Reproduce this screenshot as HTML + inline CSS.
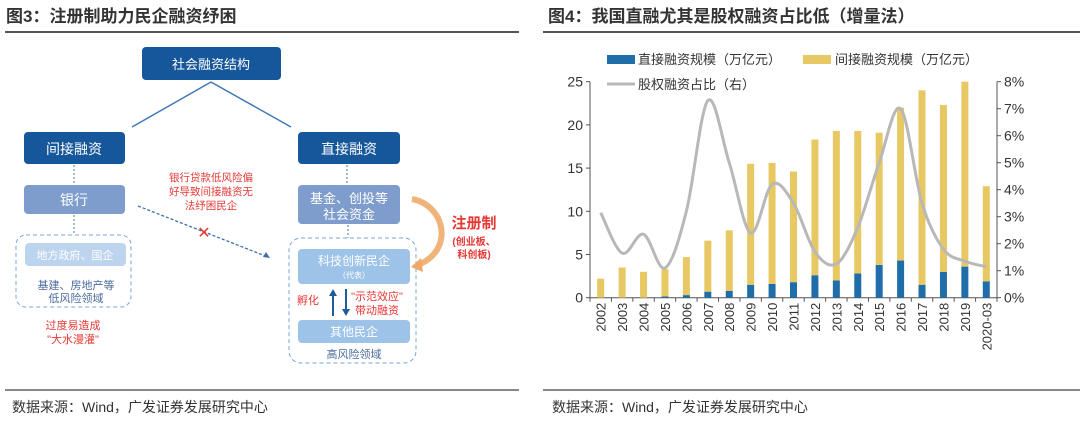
<!DOCTYPE html>
<html><head><meta charset="utf-8"><style>
body{margin:0;width:1080px;height:425px;background:#fff;overflow:hidden;font-family:"Liberation Sans","Noto Sans CJK SC",sans-serif;}
svg text{font-family:"Liberation Sans","Noto Sans CJK SC",sans-serif;}
</style></head><body>
<svg width="1080" height="425" viewBox="0 0 1080 425">
<!-- headers -->
<text x="6" y="22" font-size="17" font-weight="bold" fill="#333">图3：注册制助力民企融资纾困</text>
<text x="548" y="22" font-size="17" font-weight="bold" fill="#333">图4：我国直融尤其是股权融资占比低（增量法）</text>
<line x1="5" y1="32" x2="519" y2="32" stroke="#555" stroke-width="2"/>
<line x1="543" y1="32" x2="1080" y2="32" stroke="#555" stroke-width="2"/>
<line x1="5" y1="390" x2="519" y2="390" stroke="#888" stroke-width="2"/>
<line x1="543" y1="390" x2="1080" y2="390" stroke="#888" stroke-width="2"/>
<text x="12" y="412" font-size="14" fill="#333">数据来源：Wind，广发证券发展研究中心</text>
<text x="552" y="412" font-size="14" fill="#333">数据来源：Wind，广发证券发展研究中心</text>

<!-- left diagram -->
<g>
<line x1="211" y1="82" x2="132" y2="127" stroke="#3f78b5" stroke-width="1.5"/>
<line x1="211" y1="82" x2="291" y2="127" stroke="#3f78b5" stroke-width="1.5"/>
<rect x="142" y="47" width="139" height="33" rx="4" fill="#15579a"/>
<text x="211" y="69" font-size="13" fill="#fff" text-anchor="middle">社会融资结构</text>
<rect x="24" y="132" width="101" height="32" rx="4" fill="#15579a"/>
<text x="74" y="154" font-size="14" fill="#fff" text-anchor="middle">间接融资</text>
<rect x="298" y="132" width="102" height="32" rx="4" fill="#15579a"/>
<text x="349" y="154" font-size="14" fill="#fff" text-anchor="middle">直接融资</text>
<line x1="74" y1="165" x2="74" y2="185" stroke="#3f78b5" stroke-dasharray="2,2"/>
<line x1="347" y1="165" x2="347" y2="185" stroke="#3f78b5" stroke-dasharray="2,2"/>
<rect x="24" y="185" width="101" height="29" rx="4" fill="#7e9ccc"/>
<text x="74" y="205" font-size="14" fill="#fff" text-anchor="middle">银行</text>
<rect x="298" y="185" width="102" height="39" rx="4" fill="#7e9ccc"/>
<text x="349" y="203" font-size="13" fill="#fff" text-anchor="middle">基金、创投等</text>
<text x="349" y="219" font-size="13" fill="#fff" text-anchor="middle">社会资金</text>
<line x1="74" y1="215" x2="74" y2="235" stroke="#3f78b5" stroke-dasharray="2,2"/>
<line x1="348" y1="225" x2="348" y2="238" stroke="#3f78b5" stroke-dasharray="2,2"/>
<rect x="16" y="235" width="115" height="72" rx="10" fill="none" stroke="#7aa6d6" stroke-dasharray="4,3"/>
<rect x="25" y="243" width="101" height="23" rx="4" fill="#bdd4ef"/>
<text x="75" y="259" font-size="11" fill="#fff" text-anchor="middle">地方政府、国企</text>
<text x="76" y="289" font-size="11" fill="#4a6a9a" text-anchor="middle">基建、房地产等</text>
<text x="76" y="302" font-size="11" fill="#4a6a9a" text-anchor="middle">低风险领域</text>
<text x="73" y="329" font-size="11" fill="#e53935" text-anchor="middle">过度易造成</text>
<text x="73" y="343" font-size="11" fill="#e53935" text-anchor="middle">"大水漫灌"</text>
<text x="211" y="181" font-size="10.5" fill="#e53935" text-anchor="middle">银行贷款低风险偏</text>
<text x="211" y="195" font-size="10.5" fill="#e53935" text-anchor="middle">好导致间接融资无</text>
<text x="211" y="209" font-size="10.5" fill="#e53935" text-anchor="middle">法纾困民企</text>
<line x1="138" y1="206" x2="268" y2="257" stroke="#3f6fa8" stroke-width="1.3" stroke-dasharray="3,2"/>
<polygon points="270,258 263,257 266,252" fill="#3f6fa8"/>
<text x="204" y="238" font-size="16" fill="#e53935" text-anchor="middle">✕</text>
<rect x="289" y="238" width="127" height="125" rx="12" fill="none" stroke="#7aa6d6" stroke-dasharray="4,3"/>
<rect x="298" y="249" width="112" height="35" rx="4" fill="#9dc3e8"/>
<text x="354" y="265" font-size="12" fill="#fff" text-anchor="middle">科技创新民企</text>
<text x="354" y="278" font-size="8" fill="#fff" text-anchor="middle">（代表）</text>
<rect x="298" y="320" width="112" height="23" rx="4" fill="#9dc3e8"/>
<text x="354" y="336" font-size="12" fill="#fff" text-anchor="middle">其他民企</text>
<text x="354" y="358" font-size="11" fill="#4a6a9a" text-anchor="middle">高风险领域</text>
<line x1="333" y1="316" x2="333" y2="294" stroke="#1f5c99" stroke-width="2"/>
<polygon points="333,289 329,296 337,296" fill="#1f5c99"/>
<line x1="346" y1="289" x2="346" y2="311" stroke="#1f5c99" stroke-width="2"/>
<polygon points="346,316 342,309 350,309" fill="#1f5c99"/>
<text x="308" y="304" font-size="11" fill="#e53935" text-anchor="middle">孵化</text>
<text x="377" y="300" font-size="11" fill="#e53935" text-anchor="middle">"示范效应"</text>
<text x="377" y="314" font-size="11" fill="#e53935" text-anchor="middle">带动融资</text>
<path d="M412,199 C445,205 455,250 418,265" fill="none" stroke="#f0b47a" stroke-width="6"/>
<polygon points="411,267 421,258 423,272" fill="#f0a868"/>
<text x="474" y="228" font-size="15" font-weight="bold" fill="#e53935" text-anchor="middle">注册制</text>
<text x="474" y="245" font-size="10" font-weight="bold" fill="#e53935" text-anchor="middle">(创业板、</text>
<text x="474" y="258" font-size="10" font-weight="bold" fill="#e53935" text-anchor="middle">科创板)</text>
</g>

<g id="chart"></g>
</svg>
<script>
const categories=["2002","2003","2004","2005","2006","2007","2008","2009","2010","2011","2012","2013","2014","2015","2016","2017","2018","2019","2020-03"];
const directValues=[0,0,0,0.15,0.3,0.7,0.8,1.5,1.6,1.8,2.6,2.0,2.8,3.8,4.3,1.5,3.0,3.6,1.9];
const indirectValues=[2.2,3.5,3.0,3.15,4.4,5.9,7.0,14.0,14.0,12.8,15.7,17.3,16.5,15.3,17.7,22.5,19.3,21.4,11.0];
const equityShare=[3.15,1.65,2.35,1.1,3.2,7.3,5.0,2.4,4.2,3.5,1.7,1.25,2.6,5.0,7.0,3.5,1.8,1.35,1.15];
const leftTicks=[0,5,10,15,20,25];
const rightTicks=[0,1,2,3,4,5,6,7,8];
const NS="http://www.w3.org/2000/svg";
const g=document.getElementById('chart');
const X0=590,X1=997,Y0=297.7,Y1=81.7;
const step=(X1-X0)/categories.length;
const xc=i=>X0+step*(i+0.5);
const yL=v=>Y0-(v/25)*(Y0-Y1);
const yR=v=>Y0-(v/8)*(Y0-Y1);
function el(t,a){const e=document.createElementNS(NS,t);for(const k in a)e.setAttribute(k,a[k]);g.appendChild(e);return e;}
// axes
let ax=el('line',{x1:X0,y1:Y1,x2:X0,y2:Y0,stroke:'#555'});


ax=el('line',{x1:X1,y1:Y1,x2:X1,y2:Y0,stroke:'#555'});


ax=el('line',{x1:X0,y1:Y0,x2:X1,y2:Y0,stroke:'#555'});


leftTicks.forEach(v=>{el('line',{x1:X0-4,y1:yL(v),x2:X0,y2:yL(v),stroke:'#555'});
const t=el('text',{x:X0-7,y:yL(v)+5,'font-size':14,fill:'#333','text-anchor':'end'});t.textContent=v;

});
rightTicks.forEach(v=>{el('line',{x1:X1,y1:yR(v),x2:X1+4,y2:yR(v),stroke:'#555'});
const t=el('text',{x:X1+7,y:yR(v)+5,'font-size':14,fill:'#333'});t.textContent=v+'%';

});
for(let i=0;i<=categories.length;i++)el('line',{x1:X0+step*i,y1:Y0,x2:X0+step*i,y2:Y0+4,stroke:'#555'});
categories.forEach((c,i)=>{
const x=xc(i),bw=7;
const d=directValues[i],s=indirectValues[i];
const r1=el('rect',{x:x-bw/2,y:yL(d),width:bw,height:Y0-yL(d),fill:'#1f6eaa'});


const r2=el('rect',{x:x-bw/2,y:yL(d+s),width:bw,height:yL(d)-yL(d+s),fill:'#e8c862'});


const t=el('text',{x:x+5,y:Y0+5,'font-size':13,fill:'#333','text-anchor':'end',transform:`rotate(-90 ${x+5} ${Y0+5})`});
t.textContent=c;


});
// smooth line (Catmull-Rom)
const pts=equityShare.map((v,i)=>[xc(i),yR(v)]);
let d='M'+pts[0][0]+','+pts[0][1];
for(let i=0;i<pts.length-1;i++){const p0=pts[Math.max(i-1,0)],p1=pts[i],p2=pts[i+1],p3=pts[Math.min(i+2,pts.length-1)];
d+=` C${p1[0]+(p2[0]-p0[0])/6},${p1[1]+(p2[1]-p0[1])/6} ${p2[0]-(p3[0]-p1[0])/6},${p2[1]-(p3[1]-p1[1])/6} ${p2[0]},${p2[1]}`;}
const ln=el('path',{d:d,fill:'none',stroke:'#b8b8b8','stroke-width':3});


// legend
let lg=el('rect',{x:607,y:55,width:28,height:9,fill:'#1f6eaa'});


let lt=el('text',{x:638,y:64,'font-size':13,fill:'#333'});lt.textContent='直接融资规模（万亿元）';
lg=el('rect',{x:803,y:55,width:28,height:9,fill:'#e8c862'});


lt=el('text',{x:835,y:64,'font-size':13,fill:'#333'});lt.textContent='间接融资规模（万亿元）';
lg=el('line',{x1:607,y1:84,x2:635,y2:84,stroke:'#b8b8b8','stroke-width':3});


lt=el('text',{x:638,y:89,'font-size':13,fill:'#333'});lt.textContent='股权融资占比（右）';
</script>
</body></html>
